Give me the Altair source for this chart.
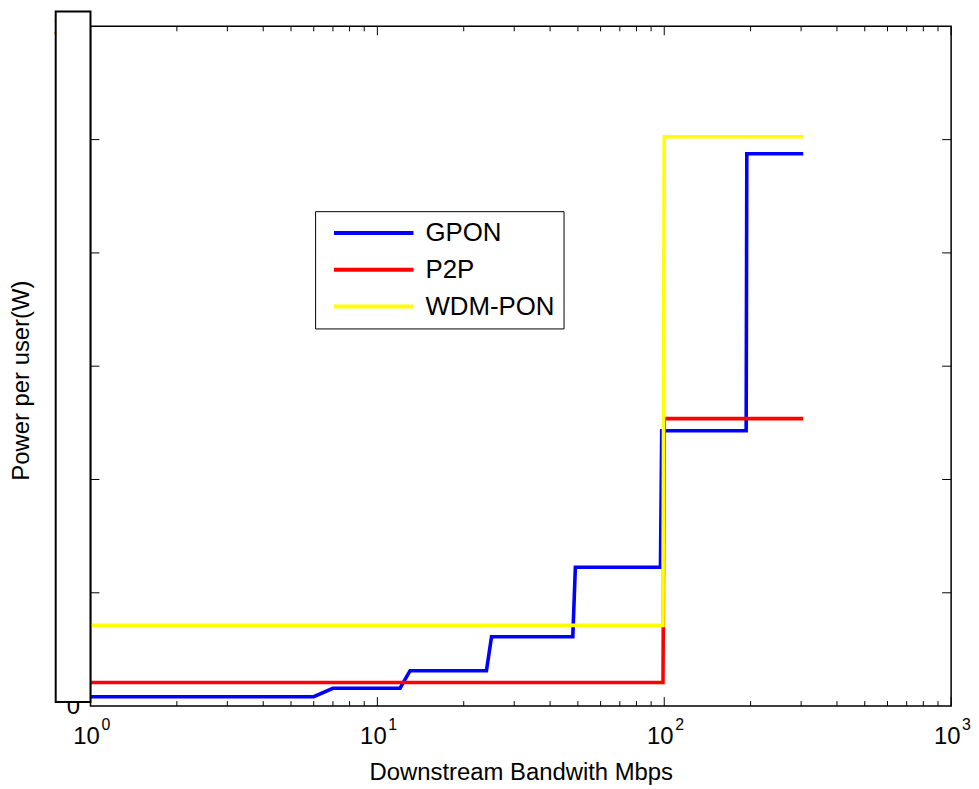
import altair as alt
import pandas as pd

# ---------------- data ----------------
series_names = ["GPON", "P2P", "WDM-PON"]
series_colors = ["#0000ff", "#ff0000", "#ffff00"]

gpon_x = [1, 6, 7, 12, 13, 24, 25, 48, 49, 97, 98, 193, 194, 305]
gpon_y = [0.33, 0.33, 0.63, 0.63, 1.25, 1.25, 2.45, 2.45, 4.9, 4.9, 9.72, 9.72, 19.5, 19.5]

p2p_x = [1, 99, 100, 305]
p2p_y = [0.83, 0.83, 10.15, 10.15]

wdm_x = [1, 99, 100, 305]
wdm_y = [2.85, 2.85, 20.1, 20.1]

x_major = [1, 10, 100, 1000]
x_base = ["10", "10", "10", "10"]
x_exponents = ["0", "1", "2", "3"]
x_minor = [2, 3, 4, 5, 6, 7, 8, 9, 20, 30, 40, 50, 60, 70, 80, 90,
           200, 300, 400, 500, 600, 700, 800, 900]
y_ticks = [0, 4, 8, 12, 16, 20, 24]
y_labels_visible = [0, 24]   # only these peek out from behind the white box

# ---------------- tables ----------------
rows = []
for name, xs, ys in zip(series_names, [gpon_x, p2p_x, wdm_x], [gpon_y, p2p_y, wdm_y]):
    for x, y in zip(xs, ys):
        rows.append({"series": name, "bw": x, "power": y})
df = pd.DataFrame(rows)

major_df = pd.DataFrame({"bw": x_major, "base": x_base, "exp": x_exponents})
minor_df = pd.DataFrame({"bw": x_minor})
ytick_df = pd.DataFrame({"power": y_ticks[1:-1]})
one_df = pd.DataFrame({"k": [0]})

W, H = 866, 684
FONT = "Liberation Sans"
MAJ, MIN = 9, 5

x_scale = alt.Scale(type="log", domain=[1, 1000], nice=False)
y_scale = alt.Scale(domain=[0, 24], nice=False, zero=False)

x_enc = alt.X(
    "bw:Q", scale=x_scale,
    axis=alt.Axis(
        values=x_major, labels=False, ticks=False, domain=False, grid=False,
        title="Downstream Bandwith Mbps", titleFontSize=24, titleFont=FONT,
        titleFontWeight="normal", titleColor="black", titlePadding=55,
    ),
)
y_enc = alt.Y(
    "power:Q", scale=y_scale,
    axis=alt.Axis(
        values=y_labels_visible, labelFontSize=24, labelFont=FONT, labelColor="black",
        labelPadding=11, ticks=False, domain=False, grid=False,
        title="Power per user(W)", titleFontSize=24, titleFont=FONT,
        titleFontWeight="normal", titleColor="black", titlePadding=20,
        titleY=H / 2 + 14,
    ),
)

lines = alt.Chart(df).mark_line(strokeWidth=3.6).encode(
    x=x_enc,
    y=y_enc,
    color=alt.Color(
        "series:N",
        scale=alt.Scale(domain=series_names, range=series_colors),
        legend=alt.Legend(
            title=None, orient="none", legendX=226, legendY=186,
            strokeColor="black", fillColor="white", padding=9,
            symbolType="M-0.3,0H7.7", symbolSize=400, symbolStrokeWidth=4,
            labelFontSize=26, labelFont=FONT, labelColor="black",
            labelOffset=76, rowPadding=11, labelLimit=300,
        ),
    ),
)

rule = dict(color="black", strokeWidth=1)
bottom_major = alt.Chart(major_df).mark_rule(**rule).encode(
    x=x_enc, y=alt.value(H - MAJ), y2=alt.value(H))
bottom_minor = alt.Chart(minor_df).mark_rule(**rule).encode(
    x=x_enc, y=alt.value(H - MIN), y2=alt.value(H))
top_major = alt.Chart(major_df).mark_rule(**rule).encode(
    x=x_enc, y=alt.value(0), y2=alt.value(MAJ))
top_minor = alt.Chart(minor_df).mark_rule(**rule).encode(
    x=x_enc, y=alt.value(0), y2=alt.value(MIN))
right_ticks = alt.Chart(ytick_df).mark_rule(**rule).encode(
    y=y_enc, x=alt.value(W - MAJ), x2=alt.value(W))
left_ticks = alt.Chart(ytick_df).mark_rule(**rule).encode(
    y=y_enc, x=alt.value(0), x2=alt.value(MAJ))

bases = alt.Chart(major_df).mark_text(
    align="center", baseline="alphabetic", dx=-4, fontSize=24, font=FONT, color="black"
).encode(x=x_enc, y=alt.value(H + 38), text="base:N")
exps = alt.Chart(major_df).mark_text(
    align="left", baseline="alphabetic", dx=11, fontSize=16, font=FONT, color="black"
).encode(x=x_enc, y=alt.value(H + 24), text="exp:N")

cover_box = alt.Chart(one_df).mark_rect(
    fill="white", stroke="black", strokeWidth=2
).encode(x=alt.value(-35), x2=alt.value(0), y=alt.value(-15), y2=alt.value(680))

chart = alt.layer(
    lines, bottom_major, bottom_minor, top_major, top_minor, right_ticks, left_ticks,
    bases, exps, cover_box
).properties(
    width=W, height=H,
    autosize=alt.AutoSizeParams(type="none"),
    padding={"left": 83, "top": 16, "right": 20, "bottom": 81},
    background="white",
).configure(font=FONT).configure_view(stroke="black", strokeWidth=1.5)

chart.save("out.html", embed_options={"renderer": "svg", "actions": False})
